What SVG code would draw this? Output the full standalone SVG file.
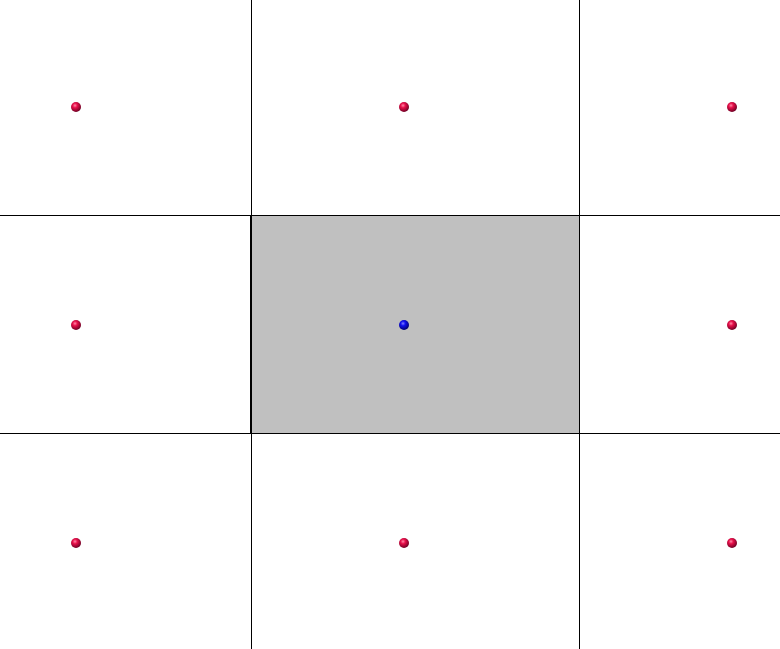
<svg xmlns="http://www.w3.org/2000/svg" width="780" height="649" viewBox="0 0 780 649">
<defs>
<radialGradient id="red" cx="0.4" cy="0.35" r="0.65">
<stop offset="0" stop-color="#ff8aa8"/>
<stop offset="0.35" stop-color="#e8104a"/>
<stop offset="1" stop-color="#700024"/>
</radialGradient>
<radialGradient id="blue" cx="0.4" cy="0.35" r="0.65">
<stop offset="0" stop-color="#8080ff"/>
<stop offset="0.35" stop-color="#1010f0"/>
<stop offset="1" stop-color="#000070"/>
</radialGradient>
<style>
.ln{stroke:#000;stroke-width:1;fill:none;shape-rendering:crispEdges}
.r{fill:url(#red)}
.b{fill:url(#blue)}
</style>
</defs>
<rect width="780" height="649" fill="#fff"/>
<g id="center-cell"><rect x="251" y="215" width="328" height="218" fill="#c0c0c0"/></g>
<g id="grid">
<line class="ln" x1="251.5" y1="0" x2="251.5" y2="649"/>
<line class="ln" x1="579.5" y1="0" x2="579.5" y2="649"/>
<line class="ln" x1="0" y1="215.5" x2="780" y2="215.5"/>
<line class="ln" x1="0" y1="433.5" x2="780" y2="433.5"/>
<line class="ln" x1="250.5" y1="215" x2="250.5" y2="434"/>
</g>
<g id="p1"><circle class="r" cx="76" cy="107" r="5"/></g>
<g id="p2"><circle class="r" cx="404" cy="107" r="5"/></g>
<g id="p3"><circle class="r" cx="732" cy="107" r="5"/></g>
<g id="p4"><circle class="r" cx="76" cy="325" r="5"/></g>
<g id="p5"><circle class="b" cx="404" cy="325" r="5"/></g>
<g id="p6"><circle class="r" cx="732" cy="325" r="5"/></g>
<g id="p7"><circle class="r" cx="76" cy="543" r="5"/></g>
<g id="p8"><circle class="r" cx="404" cy="543" r="5"/></g>
<g id="p9"><circle class="r" cx="732" cy="543" r="5"/></g>
</svg>
